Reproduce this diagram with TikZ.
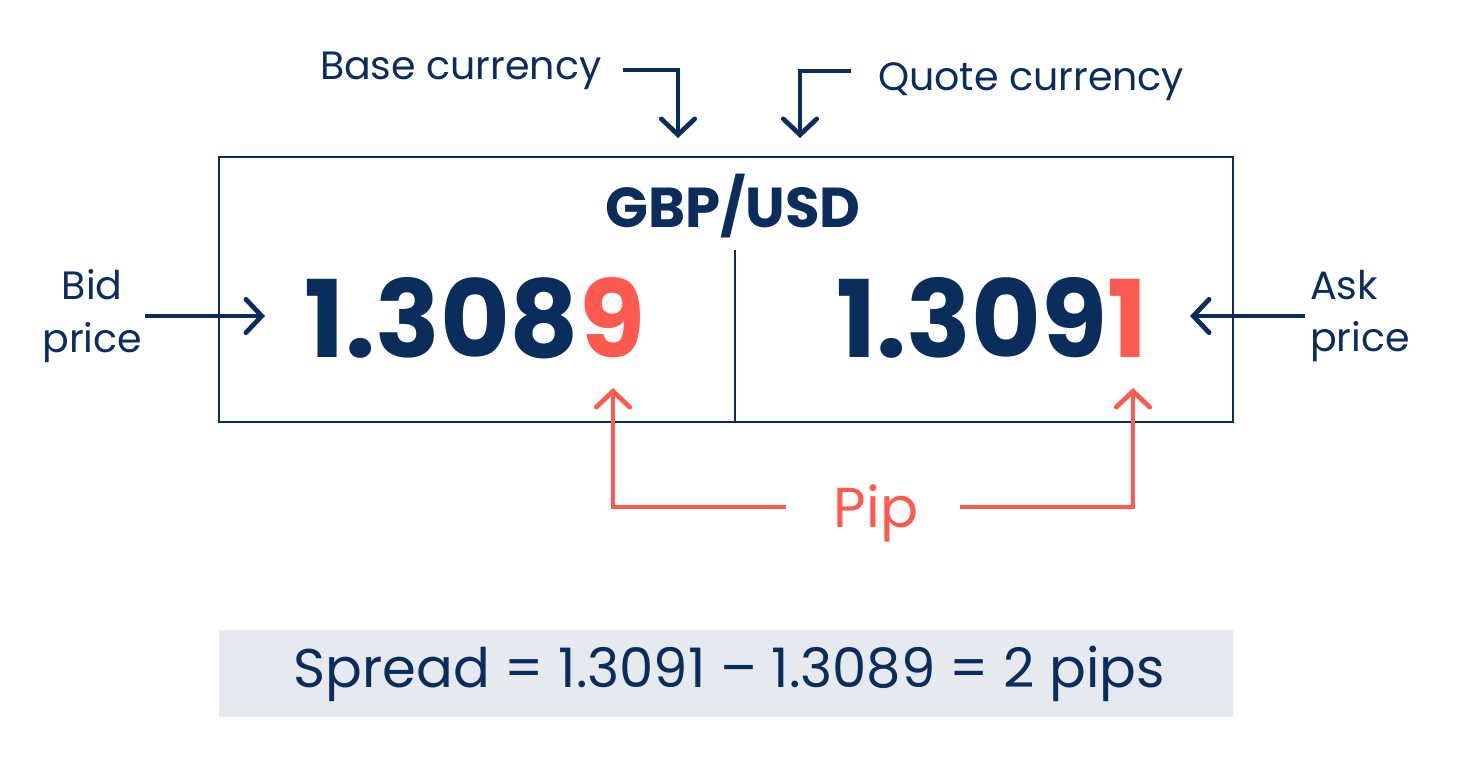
\documentclass[tikz,border=0pt]{standalone}
\usepackage{fontspec}
\setmainfont{Poppins}
\usetikzlibrary{arrows.meta, positioning}

\definecolor{navy}{HTML}{0B2D5B}
\definecolor{pipred}{HTML}{FF5A4F}
\definecolor{spreadgray}{HTML}{E6E9EE}

\begin{document}
\begin{tikzpicture}[
  x=0.02cm, y=-0.02cm,
  >={Straight Barb[length=9pt,width=19pt,line cap=round]},
  every node/.style={inner sep=0pt, outer sep=0pt, text=navy},
  label/.style={font=\fontsize{22.5}{30}\selectfont},
  price/.style={font=\bfseries\fontsize{61}{66}\selectfont, anchor=base},
  navyarrow/.style={->, draw=navy, line width=2.7pt},
  piparrow/.style={->, draw=pipred, line width=2.7pt}]

  \useasboundingbox (0,0) rectangle (1462,774);

  % quote box and spread box
  \node[draw=navy, line width=0.9pt, minimum width=20.28cm, minimum height=5.3cm]
    (frame) at (726,289.5) {};
  \node[fill=spreadgray, minimum width=20.28cm, minimum height=1.74cm,
        font=\fontsize{31}{38}\selectfont]
    (spread) at (726,673.5) {\hspace*{0.14cm}Spread = 1.3091 -- 1.3089 = 2 pips};

  % texts
  \node[font=\bfseries\fontsize{32}{38}\selectfont, anchor=base] (pair) at (733,227) {GBP/USD};
  \node[price] (bidnum) at (475,357) {1.308\textcolor{pipred}{9}};
  \node[price] (asknum) at (992,357) {1.309\textcolor{pipred}{1}};
  \node[label, anchor=base west] (base)  at (320,79) {Base currency};
  \node[label, anchor=base west] (quote) at (878,90) {Quote currency};
  \node[label, align=center, anchor=east] (bid) at (142,316) {Bid\\price};
  \node[label, align=left, anchor=west]   (ask) at (1310,316) {Ask\\price};
  \node[font=\fontsize{32}{36}\selectfont, text=pipred, anchor=base] (pip) at (876,527) {Pip};

  % arrow tips
  \coordinate (baseTip)  at (678,138);
  \coordinate (quoteTip) at (800,138);
  \coordinate (bidPip)   at (613,388);
  \coordinate (askPip)   at (1133,388);
  \coordinate (divTop)   at (735,250);

  % divider
  \draw[navy, line width=0.9pt] (divTop) -- (divTop |- frame.south);

  % connectors
  \draw[navyarrow] (base.east |- 0,70) ++(21,0) -| (baseTip);
  \draw[navyarrow] (quote.west |- 0,71) ++(-27,0) -| (quoteTip);
  \draw[navyarrow] (bid.east) ++(3,0) -- (265,316);
  \draw[navyarrow] (ask.west) ++(-5,0) -- (1190,316);
  \draw[piparrow] (pip.west |- 0,507) ++(-48,0) -| (bidPip);
  \draw[piparrow] (pip.east |- 0,507) ++(42,0) -| (askPip);

\end{tikzpicture}
\end{document}
